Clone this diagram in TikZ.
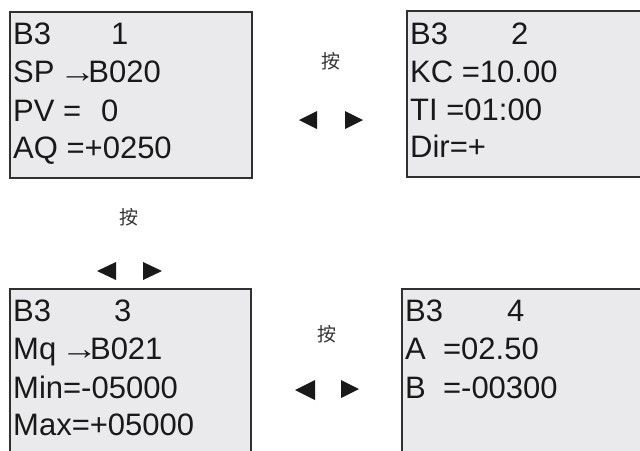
\documentclass[tikz,border=0pt]{standalone}
\usepackage{fontspec}
\usepackage{graphicx}
\newfontfamily\lcdfont{Liberation Sans}
\newfontfamily\cjkfont{Noto Sans CJK SC}
\definecolor{lcdfill}{HTML}{EAEAEC}
\definecolor{lcdedge}{HTML}{303030}
\definecolor{keytext}{HTML}{333333}
\newcommand{\lcdarrow}{\hspace{-4pt}\scalebox{1.2}[1]{→}\hspace{-8pt}}
\tikzset{
  lcdbox/.style={draw=lcdedge, fill=lcdfill, line width=1.6pt},
  lcdline/.style={anchor=base west, inner sep=0pt, font=\lcdfont\fontsize{31}{31}\selectfont, text=black!90},
  keylabel/.style={inner sep=0pt, font=\cjkfont\fontsize{19}{19}\selectfont, text=keytext},
  keytri/.style={fill=black!90},
}
\begin{document}
\begin{tikzpicture}[x=1pt,y=-1pt]
\useasboundingbox (0,0) rectangle (640,450);
\clip (0,0) rectangle (640,450);
% boxes
\path[lcdbox] (10,12) rectangle (252,178);
\path[lcdbox] (407,11) rectangle (660,177);
\path[lcdbox] (10,289) rectangle (251,470);
\path[lcdbox] (402,289) rectangle (660,470);
% box 1
\node[lcdline] (b1l1) at (13,44) {B3\hspace{60pt}1};
\node[lcdline] (b1l2) at (13,82) {SP \lcdarrow B020};
\node[lcdline] (b1l3) at (13,121) {PV =\hspace{20pt}0};
\node[lcdline] (b1l4) at (13,158) {AQ =+0250};
% box 2
\node[lcdline] (b2l1) at (410,44) {B3\hspace{63pt}2};
\node[lcdline] (b2l2) at (410,82) {KC =10.00};
\node[lcdline] (b2l3) at (410,120) {TI =01:00};
\node[lcdline] (b2l4) at (410,157) {Dir=+};
% box 3
\node[lcdline] (b3l1) at (13,321) {B3\hspace{63pt}3};
\node[lcdline] (b3l2) at (13,359) {Mq \lcdarrow B021};
\node[lcdline] (b3l3) at (13,398) {Min=-05000};
\node[lcdline] (b3l4) at (13,435) {Max=+05000};
% box 4
\node[lcdline] (b4l1) at (405,321) {B3\hspace{64pt}4};
\node[lcdline] (b4l2) at (405,359) {A~~=02.50};
\node[lcdline] (b4l3) at (405,398) {B~~=-00300};
% key labels
\node[keylabel] (k1) at (331,61) {按};
\node[keylabel] (k2) at (129,217) {按};
\node[keylabel] (k3) at (327,334) {按};
% triangles top middle
\fill[keytri] (299,120) -- (317,111) -- (317,129) -- cycle;
\fill[keytri] (363,120) -- (345,111) -- (345,129) -- cycle;
% triangles left
\fill[keytri] (97,271) -- (116,262) -- (116,280) -- cycle;
\fill[keytri] (162,271) -- (143,262) -- (143,280) -- cycle;
% triangles bottom middle
\fill[keytri] (295,390) -- (315,380) -- (315,400) -- cycle;
\fill[keytri] (359,389) -- (341,380) -- (341,398) -- cycle;
\end{tikzpicture}
\end{document}
